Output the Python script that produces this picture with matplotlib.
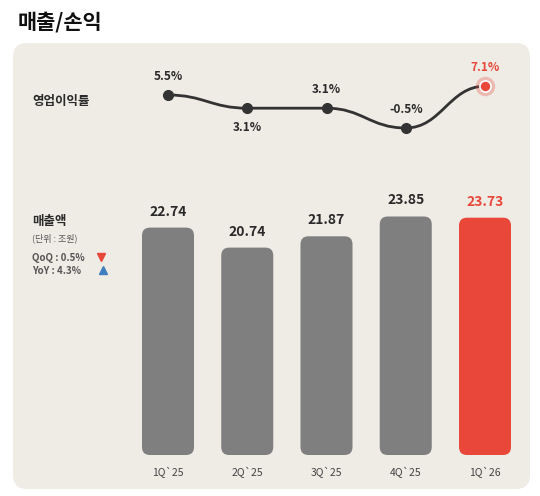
import matplotlib
matplotlib.use("Agg")
import matplotlib.pyplot as plt
from matplotlib.patches import FancyBboxPatch
from matplotlib.path import Path
from matplotlib.patches import PathPatch
import numpy as np

plt.rcParams['font.family'] = ['Noto Sans CJK KR', 'DejaVu Sans']

quarters = ["1Q`25", "2Q`25", "3Q`25", "4Q`25", "1Q`26"]
sales = [22.74, 20.74, 21.87, 23.85, 23.73]
margin = [5.5, 3.1, 3.1, -0.5, 7.1]
margin_labels = ["5.5%", "3.1%", "3.1%", "-0.5%", "7.1%"]
label_above = [True, False, True, True, True]

W, H = 540, 496
GRAY = "#7f7f7f"; RED = "#e8473a"; DARK = "#2a2a2a"; PANEL = "#efebe5"

fig = plt.figure(figsize=(W/100, H/100), dpi=100)
fig.patch.set_facecolor("white")

def fx(x): return x / W
def fy(y): return 1 - y / H

# panel
bg = fig.add_axes([0, 0, 1, 1]); bg.set_xlim(0, W); bg.set_ylim(H, 0); bg.axis("off")
bg.add_patch(FancyBboxPatch((13, 43), 517, 446, boxstyle="round,pad=0,rounding_size=14",
                            fc=PANEL, ec="none"))
bg.text(18, 22, "매출/손익", fontsize=15, fontweight="bold", va="center", color="#111")
bg.text(32, 101, "영업이익률", fontsize=9, fontweight="bold", va="center", color=DARK)
bg.text(32, 221, "매출액", fontsize=9, fontweight="bold", va="center", color=DARK)
bg.text(32, 238, "(단위 : 조원)", fontsize=6.5, va="center", color="#555")
bg.text(32, 258, "QoQ : 0.5%", fontsize=7, fontweight="bold", va="center", color="#555")
bg.text(32, 271, "YoY : 4.3%", fontsize=7, fontweight="bold", va="center", color="#555")
bg.plot([101], [257], marker="v", color=RED, ms=6)
bg.plot([103], [270], marker="^", color="#3f7fbf", ms=6)

# bar axes
x0p, x1p = 130, 525
ppu = 79.25
xlim = (-(168 - x0p) / ppu, 4 + (x1p - 485) / ppu)
by0, by1 = 455, 195
ax = fig.add_axes([fx(x0p), fy(by0), fx(x1p - x0p), (by0 - by1) / H])
ax.set_xlim(*xlim); ax.set_ylim(0, 26); ax.axis("off")
xs = np.arange(len(sales))
bw = 52 / ppu
aspect = (26 / (by0 - by1)) / (1 / ppu)
for i, v in enumerate(sales):
    c = RED if i == len(sales) - 1 else GRAY
    ax.add_patch(FancyBboxPatch((i - bw/2, 0), bw, v, boxstyle="round,pad=0,rounding_size=0.1",
                                mutation_aspect=aspect, fc=c, ec="none"))
    ax.text(i, v + 0.9, f"{v:.2f}", ha="center", va="bottom", fontsize=10, fontweight="bold",
            color=c if i == len(sales) - 1 else DARK)
    ax.text(i, -1.2, quarters[i], ha="center", va="top", fontsize=7.5, color="#444")

# line axes
ly0, ly1 = 150, 60
lax = fig.add_axes([fx(x0p), fy(ly0), fx(x1p - x0p), (ly0 - ly1) / H])
lax.set_xlim(*xlim); lax.set_ylim(-4.5, 11.86); lax.axis("off")
verts = [(0, margin[0])]; codes = [Path.MOVETO]
for i in range(len(margin) - 1):
    a, b = margin[i], margin[i + 1]
    verts += [(i + 0.45, a), (i + 0.55, b), (i + 1, b)]
    codes += [Path.CURVE4] * 3
lax.add_patch(PathPatch(Path(verts, codes), fc="none", ec="#333", lw=2))
for i, v in enumerate(margin):
    last = i == len(margin) - 1
    if last:
        lax.plot(i, v, "o", ms=14, color=RED, alpha=0.3, mec="none")
        lax.plot(i, v, "o", ms=8, color=RED, mec="white", mew=1.2)
    else:
        lax.plot(i, v, "o", ms=7, color="#333")
    dy = 2.2 if label_above[i] else -2.3
    lax.text(i, v + dy, margin_labels[i], ha="center", va="bottom" if label_above[i] else "top",
             fontsize=8.5, fontweight="bold", color=RED if last else DARK)

fig.savefig("out.png", dpi=100)
